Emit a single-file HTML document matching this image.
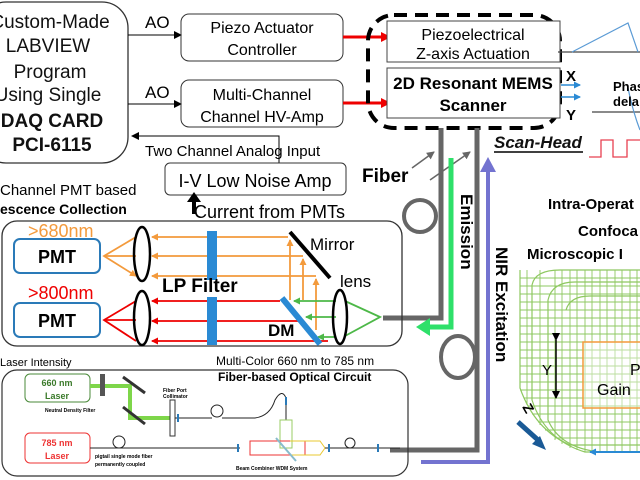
<!DOCTYPE html>
<html><head><style>
html,body{margin:0;padding:0;background:#fff;}
svg{display:block;font-family:"Liberation Sans",sans-serif;}
</style></head><body>
<svg width="640" height="480" viewBox="0 0 640 480" xmlns="http://www.w3.org/2000/svg">
<defs>
<marker id="ab" markerWidth="8" markerHeight="8" refX="7" refY="4" orient="auto" markerUnits="userSpaceOnUse"><path d="M0,0 L8,4 L0,8 z" fill="#000"/></marker>
<marker id="ar" markerWidth="10" markerHeight="10" refX="9" refY="5" orient="auto" markerUnits="userSpaceOnUse"><path d="M0,0 L10,5 L0,10 z" fill="#e00"/></marker>
<marker id="ao" markerWidth="7" markerHeight="7" refX="6" refY="3.5" orient="auto" markerUnits="userSpaceOnUse"><path d="M0,0 L7,3.5 L0,7 z" fill="#f39a3c"/></marker>
<marker id="ar2" markerWidth="7" markerHeight="7" refX="6" refY="3.5" orient="auto" markerUnits="userSpaceOnUse"><path d="M0,0 L7,3.5 L0,7 z" fill="#e00"/></marker>
<marker id="ag" markerWidth="7" markerHeight="7" refX="6" refY="3.5" orient="auto" markerUnits="userSpaceOnUse"><path d="M0,0 L7,3.5 L0,7 z" fill="#4db848"/></marker>
<marker id="abl" markerWidth="7" markerHeight="7" refX="6" refY="3.5" orient="auto" markerUnits="userSpaceOnUse"><path d="M0,0 L7,3.5 L0,7 z" fill="#2a8ad4"/></marker>
<marker id="agr" markerWidth="8" markerHeight="8" refX="7" refY="4" orient="auto" markerUnits="userSpaceOnUse"><path d="M0,0 L8,4 L0,8 z" fill="#666"/></marker>
<clipPath id="gc"><rect x="515" y="265" width="125" height="215"/></clipPath>
</defs>

<!-- LABVIEW box -->
<rect x="-20" y="2" width="148" height="161" rx="26" fill="none" stroke="#333" stroke-width="1.3"/>
<g font-size="19" text-anchor="middle" fill="#111">
<text x="50" y="28">Custom-Made</text>
<text x="48" y="52">LABVIEW</text>
<text x="50" y="78">Program</text>
<text x="48" y="101">Using Single</text>
<text x="52" y="127" font-weight="bold">DAQ CARD</text>
<text x="52" y="151" font-weight="bold">PCI-6115</text>
</g>
<line x1="128" y1="35" x2="181" y2="35" stroke="#000" marker-end="url(#ab)"/>
<line x1="128" y1="104" x2="181" y2="104" stroke="#000" marker-end="url(#ab)"/>
<text x="145" y="28" font-size="17">AO</text>
<text x="145" y="98" font-size="17">AO</text>
<rect x="181" y="14" width="162" height="47" rx="8" fill="none" stroke="#333"/>
<text x="262" y="33" font-size="16" text-anchor="middle">Piezo Actuator</text>
<text x="262" y="55" font-size="16" text-anchor="middle">Controller</text>
<rect x="181" y="80" width="162" height="47" rx="8" fill="none" stroke="#333"/>
<text x="262" y="100" font-size="16" text-anchor="middle">Multi-Channel</text>
<text x="262" y="122" font-size="16" text-anchor="middle">Channel HV-Amp</text>
<polyline points="279,163 279,136 132,136" fill="none" stroke="#000" marker-end="url(#ab)"/>
<text x="145" y="156" font-size="15">Two Channel Analog Input</text>
<rect x="165" y="163" width="181" height="32" rx="5" fill="#fff" stroke="#333"/>
<text x="255" y="187" font-size="18" text-anchor="middle">I-V Low Noise Amp</text>
<line x1="343" y1="37" x2="390" y2="37" stroke="#e00" stroke-width="3" marker-end="url(#ar)"/>
<line x1="343" y1="103" x2="390" y2="103" stroke="#e00" stroke-width="3" marker-end="url(#ar)"/>

<!-- scan head -->
<rect x="368" y="15" width="192" height="113" rx="26" fill="none" stroke="#000" stroke-width="4" stroke-dasharray="13,8"/>
<rect x="387" y="21" width="173" height="41" fill="#fff" stroke="#444"/>
<text x="473" y="40" font-size="16" text-anchor="middle">Piezoelectrical</text>
<text x="473" y="59" font-size="16" text-anchor="middle">Z-axis Actuation</text>
<rect x="387" y="68" width="173" height="50" fill="#fff" stroke="#444"/>
<text x="473" y="89" font-size="17" font-weight="bold" text-anchor="middle">2D Resonant MEMS</text>
<text x="473" y="111" font-size="17" font-weight="bold" text-anchor="middle">Scanner</text>
<text x="566" y="81" font-size="15" font-weight="bold">X</text>
<text x="566" y="120" font-size="15" font-weight="bold">Y</text>
<line x1="561" y1="85" x2="580" y2="85" stroke="#2a8ad4" stroke-width="1.5" marker-end="url(#abl)"/>
<line x1="561" y1="97" x2="580" y2="97" stroke="#2a8ad4" stroke-width="1.5" marker-end="url(#abl)"/>
<line x1="558" y1="52" x2="640" y2="52" stroke="#444" stroke-width="1.2"/>
<polyline points="572,52 628,23 638,52" fill="none" stroke="#5b9bd5" stroke-width="1.2"/>
<line x1="592" y1="112" x2="640" y2="112" stroke="#444" stroke-width="1.2"/>
<path d="M628,88 Q633,112 640,130" fill="none" stroke="#5b9bd5" stroke-width="1.2"/>
<text x="613" y="91" font-size="13" font-weight="bold">Phas</text>
<text x="613" y="106" font-size="13" font-weight="bold">dela</text>
<polyline points="589,157 601,157 601,140 613,140 613,157 627,157 627,140 640,140" fill="none" stroke="#e84050" stroke-width="1.3"/>
<text x="494" y="148" font-size="17" font-weight="bold" font-style="italic" fill="#111">Scan-Head</text>
<line x1="494" y1="152" x2="583" y2="152" stroke="#000" stroke-width="1.5"/>

<!-- fibers -->
<text x="362" y="182" font-size="19" font-weight="bold">Fiber</text>
<line x1="412" y1="168" x2="434" y2="152" stroke="#666" stroke-width="1.5" marker-end="url(#agr)"/>
<line x1="430" y1="180" x2="470" y2="152" stroke="#666" stroke-width="1.5" marker-end="url(#agr)"/>
<polyline points="441,128 441,318 383,318" fill="none" stroke="#666" stroke-width="5"/>
<circle cx="420" cy="216" r="16" fill="none" stroke="#666" stroke-width="4"/>
<polyline points="477,128 477,450 390,450" fill="none" stroke="#666" stroke-width="5"/>
<ellipse cx="458" cy="357" rx="17" ry="21" fill="none" stroke="#666" stroke-width="4"/>
<polyline points="451,158 451,327 428,327" fill="none" stroke="#2ee06a" stroke-width="5"/>
<path d="M416,327 L430,318 L430,336 z" fill="#2ee06a"/>
<polyline points="488,172 488,462 421,462" fill="none" stroke="#7373d0" stroke-width="4"/>
<path d="M480,172 L488,157 L496,172 z" fill="#7373d0"/>
<text transform="translate(461,194) rotate(90)" font-size="17" font-weight="bold">Emission</text>
<text transform="translate(496,247) rotate(90)" font-size="17" font-weight="bold">NIR Excitation</text>

<!-- PMT section -->
<text x="194" y="218" font-size="18">Current from PMTs</text>
<line x1="194" y1="214" x2="194" y2="198" stroke="#000" stroke-width="4"/>
<path d="M187,202 L194,192 L201,202 z" fill="#000"/>
<text x="0" y="195" font-size="15">Channel PMT based</text>
<text x="0" y="214" font-size="14" font-weight="bold">escence Collection</text>
<rect x="2" y="221" width="400" height="125" rx="15" fill="none" stroke="#333" stroke-width="1.3"/>
<rect x="14" y="239" width="86" height="34" rx="6" fill="#fff" stroke="#2a7ab8" stroke-width="2"/>
<rect x="14" y="303" width="86" height="34" rx="6" fill="#fff" stroke="#2a7ab8" stroke-width="2"/>
<text x="57" y="263" font-size="18" font-weight="bold" text-anchor="middle">PMT</text>
<text x="57" y="327" font-size="18" font-weight="bold" text-anchor="middle">PMT</text>
<text x="28" y="237" font-size="18" fill="#f39a3c">&gt;680nm</text>
<text x="28" y="299" font-size="18" fill="#e00">&gt;800nm</text>
<g stroke="#f39a3c" stroke-width="1.8" fill="none">
<line x1="288" y1="237" x2="152" y2="237" marker-end="url(#ao)"/>
<line x1="303" y1="256" x2="152" y2="256" marker-end="url(#ao)"/>
<line x1="316" y1="276" x2="152" y2="276" marker-end="url(#ao)"/>
<line x1="290" y1="300" x2="290" y2="240" marker-end="url(#ao)"/>
<line x1="303" y1="300" x2="303" y2="259" marker-end="url(#ao)"/>
<line x1="316" y1="330" x2="316" y2="279" marker-end="url(#ao)"/>
<polyline points="136,237 104,256 136,276" marker-end="url(#ao)"/>
<line x1="136" y1="256" x2="104" y2="256"/>
</g>
<g stroke="#e00" stroke-width="1.8" fill="none">
<line x1="280" y1="301" x2="152" y2="301" marker-end="url(#ar2)"/>
<line x1="300" y1="321" x2="152" y2="321" marker-end="url(#ar2)"/>
<line x1="328" y1="341" x2="152" y2="341" marker-end="url(#ar2)"/>
<polyline points="136,301 104,320 136,341"/>
<line x1="136" y1="320" x2="104" y2="320"/>
</g>
<g stroke="#4db848" stroke-width="1.8" fill="none">
<line x1="336" y1="301" x2="294" y2="301" marker-end="url(#ag)"/>
<line x1="336" y1="317" x2="306" y2="317" marker-end="url(#ag)"/>
<line x1="336" y1="337" x2="318" y2="337" marker-end="url(#ag)"/>
<polyline points="345,301 380,317 345,336"/>
</g>
<ellipse cx="142" cy="254" rx="8" ry="27" fill="none" stroke="#000" stroke-width="2.5"/>
<ellipse cx="142" cy="318" rx="8" ry="27" fill="none" stroke="#000" stroke-width="2.5"/>
<ellipse cx="340" cy="317" rx="7" ry="27" fill="none" stroke="#000" stroke-width="2.5"/>
<rect x="207" y="231" width="10" height="49" fill="#2a8ad4"/>
<rect x="207" y="297" width="10" height="48" fill="#2a8ad4"/>
<line x1="290" y1="232" x2="330" y2="278" stroke="#000" stroke-width="4"/>
<line x1="282" y1="298" x2="320" y2="344" stroke="#2a8ad4" stroke-width="6"/>
<text x="310" y="250" font-size="17">Mirror</text>
<text x="340" y="287" font-size="17">lens</text>
<text x="162" y="292" font-size="19" font-weight="bold">LP Filter</text>
<text x="268" y="336" font-size="17" font-weight="bold">DM</text>

<!-- fiber circuit -->
<text x="0" y="366" font-size="11">Laser Intensity</text>
<text x="216" y="365" font-size="12">Multi-Color 660 nm to 785 nm</text>
<text x="218" y="381" font-size="12" font-weight="bold">Fiber-based Optical Circuit</text>
<rect x="2" y="370" width="406" height="106" rx="15" fill="none" stroke="#333" stroke-width="1.2"/>
<rect x="25" y="374" width="65" height="28" rx="5" fill="#fff" stroke="#4a8a3a"/>
<text x="57" y="386" font-size="9" font-weight="bold" fill="#3a7a2a" text-anchor="middle">660 nm</text>
<text x="57" y="399" font-size="9" font-weight="bold" fill="#3a7a2a" text-anchor="middle">Laser</text>
<rect x="25" y="433" width="65" height="30" rx="5" fill="#fff" stroke="#e33"/>
<text x="57" y="446" font-size="9" font-weight="bold" fill="#e33" text-anchor="middle">785 nm</text>
<text x="57" y="459" font-size="9" font-weight="bold" fill="#e33" text-anchor="middle">Laser</text>
<polyline points="90,386 130,386 130,418 172,418" fill="none" stroke="#7ed64a" stroke-width="4"/>
<rect x="100" y="374" width="5" height="22" fill="#555"/>
<line x1="123" y1="377" x2="145" y2="393" stroke="#333" stroke-width="3"/>
<line x1="123" y1="407" x2="145" y2="424" stroke="#333" stroke-width="3"/>
<text x="45" y="412" font-size="5" font-weight="bold">Neutral Density Filter</text>
<text x="163" y="392" font-size="5" font-weight="bold">Fiber Port</text>
<text x="163" y="398" font-size="5" font-weight="bold">Collimator</text>
<rect x="170" y="400" width="5" height="36" fill="#fff" stroke="#333"/>
<path d="M175,418 L212,418 M222,418 L255,418 Q270,416 275,400 Q282,388 286,398 L286,420" fill="none" stroke="#222" stroke-width="1"/>
<circle cx="217" cy="411" r="6" fill="none" stroke="#222"/>
<line x1="90" y1="448" x2="240" y2="448" stroke="#222"/>
<circle cx="119" cy="442" r="6" fill="none" stroke="#222"/>
<text x="95" y="458" font-size="5" font-weight="bold">pigtail single mode fiber</text>
<text x="95" y="466" font-size="5" font-weight="bold">permanently coupled</text>
<rect x="280" y="420" width="12" height="28" fill="none" stroke="#9c6"/>
<rect x="250" y="441" width="55" height="14" fill="none" stroke="#e33"/>
<path d="M290,441 L320,441 L325,448 L320,455 L290,455" fill="none" stroke="#e8c830"/>
<line x1="276" y1="438" x2="296" y2="461" stroke="#8bc" stroke-width="2"/>
<line x1="325" y1="448" x2="400" y2="448" stroke="#222"/>
<circle cx="350" cy="443" r="5" fill="none" stroke="#222"/>
<g stroke="#2a7ab8" stroke-width="2"><line x1="178" y1="414" x2="178" y2="422"/><line x1="286" y1="397" x2="286" y2="405"/><line x1="238" y1="444" x2="238" y2="452"/><line x1="329" y1="444" x2="329" y2="452"/><line x1="378" y1="444" x2="378" y2="452"/></g>
<text x="236" y="470" font-size="5" font-weight="bold">Beam Combiner WDM System</text>

<!-- image grid -->
<text x="548" y="209" font-size="15" font-weight="bold">Intra-Operat</text>
<text x="578" y="236" font-size="15" font-weight="bold">Confoca</text>
<text x="527" y="259" font-size="15" font-weight="bold">Microscopic I</text>
<g clip-path="url(#gc)" stroke="#8ec860" stroke-width="1.2" fill="none">
<path d="M520,270 L520,388 Q535,430 570,445 L640,445"/>
<path d="M532,285 Q535,270 560,270 L640,270 M532,285 L532,400 Q545,440 585,452 L640,452"/>
<path d="M548,300 Q552,282 575,282 L640,282 M548,300 L548,420 Q560,448 600,452"/>
<path d="M566,310 Q570,296 590,296 L640,296"/>
<g stroke-width="0.9">
<path d="M527,270V405 M540,270V425 M555,270V440 M562,270V444 M570,270V448 M577,270V450 M585,270V452 M592,270V452 M600,270V452 M607,270V452 M615,270V452 M622,270V452 M630,270V452 M637,270V452"/>
<path d="M520,278H640 M520,286H640 M520,294H640 M520,302H640 M520,310H640 M520,318H640 M520,326H640 M520,334H640 M520,342H640 M520,350H640 M520,358H640 M520,366H640 M520,374H640 M520,382H640 M520,390H640 M524,398H640 M528,406H640 M532,414H640 M538,422H640 M545,430H640 M555,438H640"/>
</g>
</g>
<rect x="583" y="342" width="60" height="66" fill="#fff" fill-opacity="0.4" stroke="#f39a3c" stroke-width="1.5"/>
<text x="630" y="375" font-size="16">P</text>
<text x="597" y="395" font-size="16">Gain</text>
<line x1="556" y1="340" x2="556" y2="398" stroke="#000" stroke-width="1.5" marker-start="url(#ab)" marker-end="url(#ab)"/>
<text x="542" y="375" font-size="15">Y</text>
<text transform="translate(522,407) rotate(60)" font-size="14" font-weight="bold">Z</text>
<path d="M518,422 L538,440" stroke="#1a5a96" stroke-width="5"/>
<path d="M532,444 L546,450 L540,436 z" fill="#1a5a96"/>
<line x1="640" y1="452" x2="590" y2="452" stroke="#2a8ad4" stroke-width="2" marker-end="url(#abl)"/>
</svg>
</body></html>
